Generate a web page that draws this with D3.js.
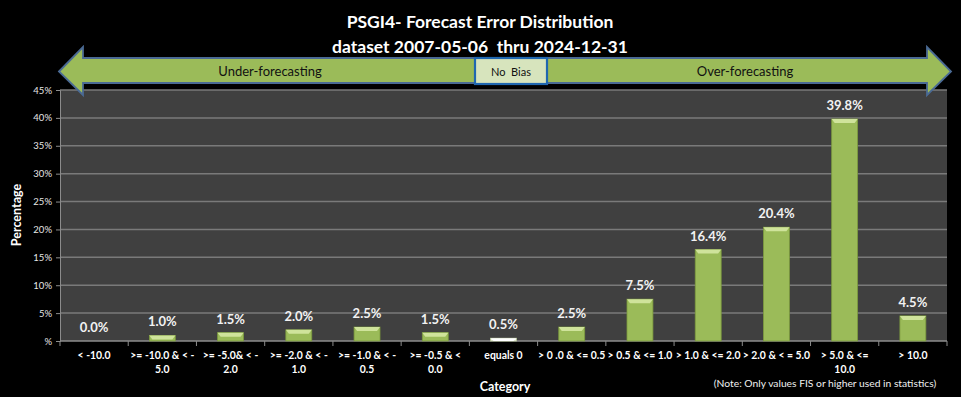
<!DOCTYPE html>
<html><head><meta charset="utf-8">
<script src="https://cdn.jsdelivr.net/npm/d3@7"></script>
<style>html,body{margin:0;padding:0;background:#000;}svg{display:block;}</style>
</head><body>
<svg id="c" width="961" height="397"></svg>
<script>
const categories = [
  ["< -10.0"], [">= -10.0 & < -", "5.0"], [">= -5.0& < -", "2.0"], [">= -2.0 & < -", "1.0"],
  [">= -1.0 & < -", "0.5"], [">= -0.5 & <", "0.0"], ["equals 0"], ["> 0 .0 & <= 0.5"],
  ["> 0.5 & <= 1.0"], ["> 1.0 & <= 2.0"], ["> 2.0 & < = 5.0"], ["> 5.0 & <=", "10.0"], ["> 10.0"]
];
const values = [0.0, 1.0, 1.5, 2.0, 2.5, 1.5, 0.5, 2.5, 7.5, 16.4, 20.4, 39.8, 4.5];
const yTicks = [0, 5, 10, 15, 20, 25, 30, 35, 40, 45];
const titleLines = ["PSGI4- Forecast Error Distribution", "dataset 2007-05-06  thru 2024-12-31"];

const svg = d3.select("#c");
const F = "Lato, 'Open Sans', sans-serif";
const L = 60, R = 947, T = 90, B = 341;

svg.append("rect").attr("width", 961).attr("height", 397).attr("fill", "#000");

const x = d3.scaleBand().domain(d3.range(categories.length)).range([L, R]).paddingInner(0.62).paddingOuter(0.31);
const xb = d3.scaleBand().domain(d3.range(categories.length)).range([L, R]);
const y = d3.scaleLinear().domain([0, 45]).range([B, T]);

svg.append("rect").attr("x", L).attr("y", T).attr("width", R - L).attr("height", B - T).attr("fill", "#404040");

// gridlines
svg.append("g").selectAll("line").data(yTicks.filter(d => d > 0)).join("line")
  .attr("x1", L).attr("x2", R).attr("y1", d => y(d)).attr("y2", d => y(d))
  .attr("stroke", "#7a7a7a").attr("stroke-width", 1.5);

// y axis
const yAxis = d3.axisLeft(y).tickValues(yTicks).tickSize(4).tickFormat(d => d === 0 ? "%" : d + "%");
const gy = svg.append("g").attr("transform", `translate(${L},0)`).call(yAxis);
gy.select(".domain").attr("stroke", "#8c8c8c");
gy.selectAll(".tick line").attr("stroke", "#8c8c8c");
gy.selectAll("text").attr("fill", "#e6e6e6").attr("font-family", F).attr("font-size", 9.5).attr("dx", -1);

// x axis
const gx = svg.append("g").attr("transform", `translate(0,${B})`);
gx.append("line").attr("x1", L).attr("x2", R).attr("stroke", "#8c8c8c").attr("stroke-width", 1.5);
gx.selectAll(".tk").data(d3.range(categories.length + 1)).join("line")
  .attr("x1", i => L + i * xb.step()).attr("x2", i => L + i * xb.step())
  .attr("y1", 0).attr("y2", 5).attr("stroke", "#8c8c8c");
gx.selectAll(".lbl").data(categories).join("text")
  .attr("x", (d, i) => xb(i) + xb.bandwidth() / 2).attr("y", 18)
  .attr("text-anchor", "middle").attr("fill", "#fff").attr("font-family", F)
  .attr("font-weight", "bold").attr("font-size", 10.4)
  .each(function(d) {
    d3.select(this).selectAll("tspan").data(d).join("tspan")
      .attr("x", d3.select(this).attr("x")).attr("dy", (t, j) => j ? 14 : 0).text(t => t);
  });

// bars
const bars = svg.append("g");
values.forEach((v, i) => {
  const bx = x(i), bw = x.bandwidth(), by = y(v), bh = B - by;
  if (bh <= 0) return;
  const zero = categories[i][0] === "equals 0";
  const fill = zero ? "#EEF3E2" : "#9BBB59";
  const top = zero ? "#ffffff" : "#cfe39b";
  bars.append("rect").attr("x", bx).attr("y", by).attr("width", bw).attr("height", bh)
    .attr("fill", fill).attr("stroke", zero ? "#b9c79a" : "#7c9a3e").attr("stroke-width", 0.8);
  const bev = Math.min(4, bh);
  bars.append("path").attr("d", `M${bx},${by} L${bx + bw},${by} L${bx + bw - 3},${by + bev} L${bx + 3},${by + bev} Z`)
    .attr("fill", top);
});

// value labels
svg.append("g").selectAll("text").data(values).join("text")
  .attr("x", (d, i) => x(i) + x.bandwidth() / 2).attr("y", d => y(d) - 9)
  .attr("text-anchor", "middle").attr("fill", "#f2f2f2").attr("font-family", F)
  .attr("font-weight", "bold").attr("font-size", 13)
  .text(d => d.toFixed(1) + "%");

// titles
svg.append("g").selectAll("text").data(titleLines).join("text")
  .attr("x", 480).attr("y", (d, i) => 28 + i * 25).attr("text-anchor", "middle")
  .attr("fill", "#fff").attr("font-family", F).attr("font-weight", "bold").attr("font-size", 17.5)
  .attr("xml:space", "preserve").style("white-space", "pre")
  .text(d => d);

// arrow
const ax0 = 59, ax1 = 951, ay = 71.5, hw = 24, st = 58, sb = 83, ht = 47, hb = 95;
svg.append("path")
  .attr("d", `M${ax0},${ay} L${ax0 + hw},${ht} L${ax0 + hw},${st} L${ax1 - hw},${st} L${ax1 - hw},${ht} L${ax1},${ay} L${ax1 - hw},${hb} L${ax1 - hw},${sb} L${ax0 + hw},${sb} L${ax0 + hw},${hb} Z`)
  .attr("fill", "#9BBB59").attr("stroke", "#4A6A94").attr("stroke-width", 1.8).attr("stroke-linejoin", "miter");
svg.append("rect").attr("x", 475).attr("y", 58).attr("width", 72).attr("height", 26)
  .attr("fill", "#D7E4BD").attr("stroke", "#1F67B0").attr("stroke-width", 2.2);
const arrowText = [["Under-forecasting", 270], ["No  Bias", 511], ["Over-forecasting", 745]];
svg.append("g").selectAll("text").data(arrowText).join("text")
  .attr("x", d => d[1]).attr("y", 76).attr("text-anchor", "middle")
  .attr("fill", "#111").attr("font-family", F).attr("font-size", d => d[0] === "No  Bias" ? 11 : 13)
  .attr("xml:space", "preserve").style("white-space", "pre")
  .text(d => d[0]);

// axis titles
svg.append("text").attr("transform", "translate(21,215) rotate(-90)").attr("text-anchor", "middle")
  .attr("fill", "#fff").attr("font-family", F).attr("font-weight", "bold").attr("font-size", 12.5).text("Percentage");
svg.append("text").attr("x", 505).attr("y", 391).attr("text-anchor", "middle")
  .attr("fill", "#fff").attr("font-family", F).attr("font-weight", "bold").attr("font-size", 12.5).text("Category");
svg.append("text").attr("x", 825).attr("y", 387).attr("text-anchor", "middle")
  .attr("fill", "#f0f0f0").attr("font-family", F).attr("font-size", 10.3).text("(Note: Only values FIS or higher used in statistics)");
</script>
</body></html>
